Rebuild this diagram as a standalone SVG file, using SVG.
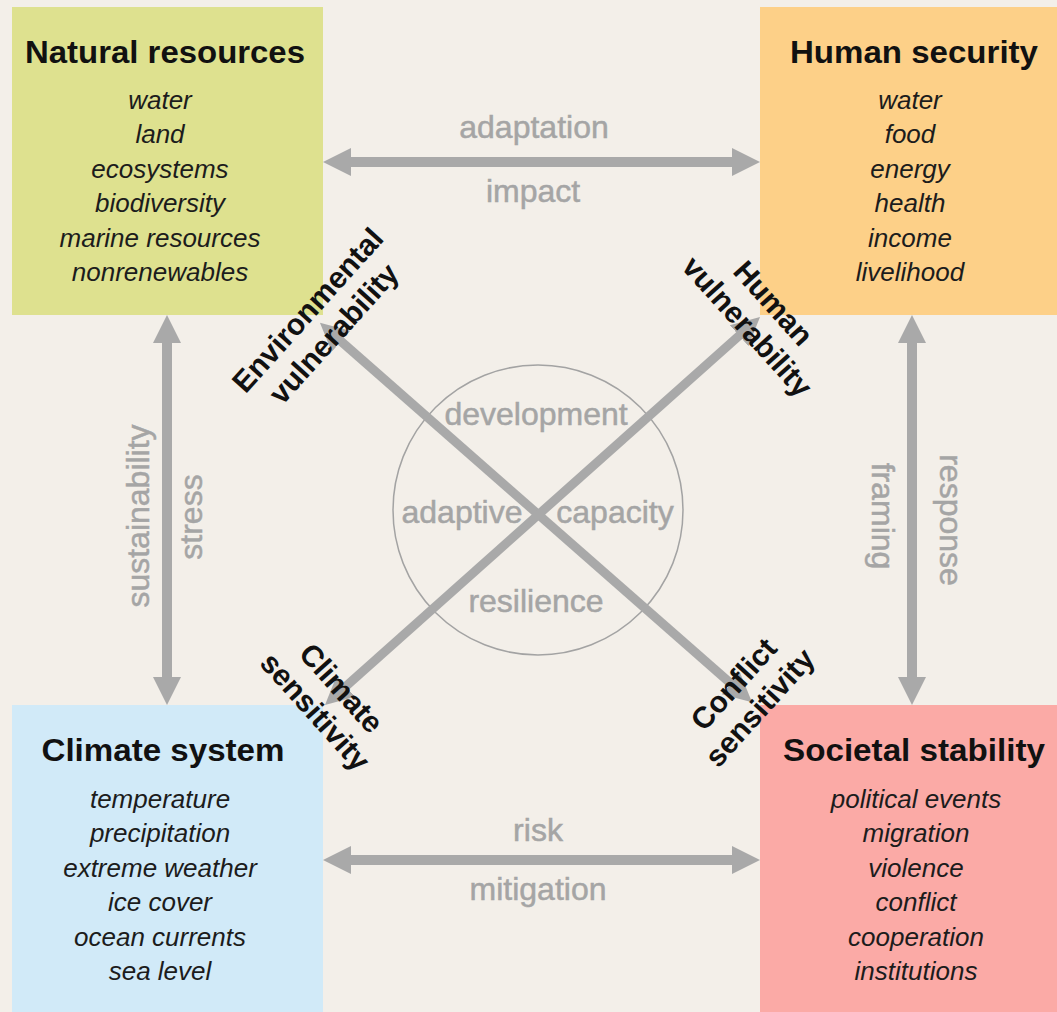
<svg xmlns="http://www.w3.org/2000/svg" width="1057" height="1012" viewBox="0 0 1057 1012">
<style>
.title{font-family:"Liberation Sans",Arial,sans-serif;font-weight:bold;font-size:31px;fill:#111;text-anchor:middle}
.item{font-family:"Liberation Sans",Arial,sans-serif;font-style:italic;font-size:26px;fill:#1c1c1c;text-anchor:middle}
.lbl{font-family:"Liberation Sans",Arial,sans-serif;font-size:32px;fill:#a5a5a5;stroke:#a5a5a5;stroke-width:0.5;text-anchor:middle}
.dlbl{font-family:"Liberation Sans",Arial,sans-serif;font-weight:bold;font-size:30px;fill:#111;text-anchor:middle}
.shaft{stroke:#a9a9a9;stroke-width:10;fill:none;marker-start:url(#ah);marker-end:url(#ah)}
.diag{stroke:#a9a9a9;stroke-width:9;fill:none;marker-start:url(#ah);marker-end:url(#ah)}
</style>
<defs>
<marker id="ah" markerUnits="userSpaceOnUse" markerWidth="28" markerHeight="30" viewBox="0 0 28 30" refX="2" refY="15" orient="auto-start-reverse">
<path d="M0,1 L28,15 L0,29 z" fill="#a9a9a9"/>
</marker>
</defs>
<rect x="0" y="0" width="1057" height="1012" fill="#f3efe9"/>

<g id="natural-resources">
<rect x="12" y="7" width="311" height="308" fill="#dee18f"/>
<text class="title" x="165" y="63" textLength="280" lengthAdjust="spacingAndGlyphs">Natural resources</text>
<text class="item" x="160" y="109">water</text>
<text class="item" x="160" y="143">land</text>
<text class="item" x="160" y="178">ecosystems</text>
<text class="item" x="160" y="212">biodiversity</text>
<text class="item" x="160" y="247">marine resources</text>
<text class="item" x="160" y="281">nonrenewables</text>
</g>

<g id="human-security">
<rect x="760" y="7" width="297" height="308" fill="#fdd088"/>
<text class="title" x="914" y="63" textLength="248" lengthAdjust="spacingAndGlyphs">Human security</text>
<text class="item" x="910" y="109">water</text>
<text class="item" x="910" y="143">food</text>
<text class="item" x="910" y="178">energy</text>
<text class="item" x="910" y="212">health</text>
<text class="item" x="910" y="247">income</text>
<text class="item" x="910" y="281">livelihood</text>
</g>

<g id="climate-system">
<rect x="12" y="705" width="311" height="307" fill="#d1eaf8"/>
<text class="title" x="163" y="761" textLength="243" lengthAdjust="spacingAndGlyphs">Climate system</text>
<text class="item" x="160" y="808">temperature</text>
<text class="item" x="160" y="842">precipitation</text>
<text class="item" x="160" y="877">extreme weather</text>
<text class="item" x="160" y="911">ice cover</text>
<text class="item" x="160" y="946">ocean currents</text>
<text class="item" x="160" y="980">sea level</text>
</g>

<g id="societal-stability">
<rect x="760" y="705" width="297" height="307" fill="#fbaaa6"/>
<text class="title" x="914" y="761" textLength="262" lengthAdjust="spacingAndGlyphs">Societal stability</text>
<text class="item" x="916" y="808">political events</text>
<text class="item" x="916" y="842">migration</text>
<text class="item" x="916" y="877">violence</text>
<text class="item" x="916" y="911">conflict</text>
<text class="item" x="916" y="946">cooperation</text>
<text class="item" x="916" y="980">institutions</text>
</g>

<g id="adaptive-capacity">
<circle cx="538" cy="510" r="145" fill="none" stroke="#a3a3a3" stroke-width="1.5"/>
<text class="lbl" x="536" y="425">development</text>
<text class="lbl" x="462" y="523">adaptive</text>
<text class="lbl" x="615" y="523">capacity</text>
<text class="lbl" x="536" y="612">resilience</text>
</g>

<g id="connectors">
<line class="shaft" x1="349" y1="162" x2="734" y2="162"/>
<line class="shaft" x1="349" y1="860" x2="734" y2="860"/>
<line class="shaft" x1="167" y1="341" x2="167" y2="679"/>
<line class="shaft" x1="912" y1="341" x2="912" y2="679"/>
<line class="diag" x1="339.5" y1="340" x2="732.5" y2="685"/>
<line class="diag" x1="740.6" y1="334.3" x2="344.4" y2="687.7"/>
<text class="lbl" x="534" y="138">adaptation</text>
<text class="lbl" x="533" y="202">impact</text>
<text class="lbl" x="538" y="841">risk</text>
<text class="lbl" x="538" y="900">mitigation</text>
<text class="lbl" transform="translate(149,516) rotate(-90)">sustainability</text>
<text class="lbl" transform="translate(202,517) rotate(-90)">stress</text>
<text class="lbl" transform="translate(872,516) rotate(90)">framing</text>
<text class="lbl" transform="translate(940,520) rotate(90)">response</text>
</g>

<g id="environmental-vulnerability" transform="translate(322,323) rotate(-48)">
<text class="dlbl" x="0" y="-9">Environmental</text>
<text class="dlbl" x="0" y="26">vulnerability</text>
</g>
<g id="human-vulnerability" transform="translate(759,316) rotate(48)">
<text class="dlbl" x="0" y="-9">Human</text>
<text class="dlbl" x="0" y="26">vulnerability</text>
</g>
<g id="climate-sensitivity" transform="translate(327,701) rotate(48)">
<text class="dlbl" x="0" y="-9">Climate</text>
<text class="dlbl" x="0" y="26">sensitivity</text>
</g>
<g id="conflict-sensitivity" transform="translate(748,697) rotate(-48)">
<text class="dlbl" x="0" y="-9">Conflict</text>
<text class="dlbl" x="0" y="26">sensitivity</text>
</g>
</svg>
